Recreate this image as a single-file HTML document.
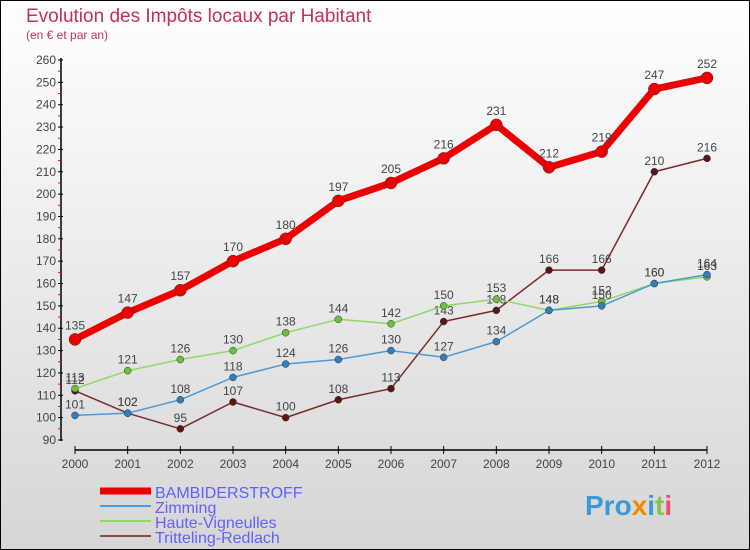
<!DOCTYPE html>
<html><head><meta charset="utf-8"><style>
body{margin:0}
#c{width:750px;height:550px;position:relative;overflow:hidden;font-family:"Liberation Sans",sans-serif}
</style></head><body>
<div id="c">
<svg id="s" width="750" height="550" xmlns="http://www.w3.org/2000/svg">
<defs><linearGradient id="bg" x1="0" y1="0" x2="0" y2="1"><stop offset="0" stop-color="#ffffff"/><stop offset="1" stop-color="#d6d6d6"/></linearGradient></defs>
<rect x="0.5" y="0.5" width="749" height="549" fill="url(#bg)" stroke="#000"/>
<text x="26" y="22" font-size="19" fill="#c0305a">Evolution des Impôts locaux par Habitant</text>
<text x="26" y="39" font-size="12" fill="#c0305a">(en € et par an)</text>
<g id="axes"></g><g id="series"></g><g id="legend"></g>
<text x="585" y="515" font-size="28" font-weight="bold" fill="#3a9ad9">Pro<tspan fill="#f08a00">x</tspan><tspan fill="#3a9ad9">i</tspan><tspan fill="#8bc34a">t</tspan><tspan fill="#e94e77">i</tspan></text>
</svg></div>
<script>
const years=[2000,2001,2002,2003,2004,2005,2006,2007,2008,2009,2010,2011,2012];
const yTicks=[90,100,110,120,130,140,150,160,170,180,190,200,210,220,230,240,250,260];
const bambiderstroff=[135,147,157,170,180,197,205,216,231,212,219,247,252];
const zimming=[101,102,108,118,124,126,130,127,134,148,150,160,164];
const hauteVigneulles=[113,121,126,130,138,144,142,150,153,148,152,160,163];
const tritteling=[112,102,95,107,100,108,113,143,148,166,166,210,216];
const seriesNames=["BAMBIDERSTROFF","Zimming","Haute-Vigneulles","Tritteling-Redlach"];
const NS="http://www.w3.org/2000/svg";
const x=i=>75+i*(707-75)/(years.length-1);
const y=v=>440-(v-90)*(380/170);
function mk(t,a,p){const e=document.createElementNS(NS,t);for(const k in a)e.setAttribute(k,a[k]);p.appendChild(e);return e;}
const ax=document.getElementById('axes');
let l=mk('line',{x1:61,y1:58,x2:61,y2:441,stroke:'#000','stroke-width':1.5},ax);


yTicks.forEach(v=>{
  mk('line',{x1:58,x2:63,y1:y(v),y2:y(v),stroke:'#000'},ax);
  if(v<260)mk('line',{x1:58,x2:61,y1:y(v+5),y2:y(v+5),stroke:'#f00'},ax);
  const t=mk('text',{x:56,y:y(v)+4,'font-size':12,fill:'#444','text-anchor':'end'},ax);t.textContent=v;
  
  
});
l=mk('line',{x1:75,y1:450,x2:707,y2:450,stroke:'#000','stroke-width':1.5},ax);


years.forEach((yr,i)=>{
  mk('line',{x1:x(i),x2:x(i),y1:446,y2:454,stroke:'#000'},ax);
  const t=mk('text',{x:x(i),y:468,'font-size':12,fill:'#444','text-anchor':'middle'},ax);t.textContent=yr;
  
  
});
const sg=document.getElementById('series');
const defs=[[tritteling,'#7a2a2a','#5a1515',1.5,3.5],[hauteVigneulles,'#8fd86a','#6cc040',1.5,3.5],[zimming,'#4d9ad4','#2f7fbf',1.5,3.5],[bambiderstroff,'#ee0000','#ee0000',7,6]];
const slugs=['tritteling-redlach','haute-vigneulles','zimming','bambiderstroff'];
defs.forEach((d,si)=>{
  const g=mk('g',{},sg);
  
  
  const pl=mk('polyline',{points:d[0].map((v,i)=>x(i)+','+y(v)).join(' '),fill:'none',stroke:d[1],'stroke-width':d[3],'stroke-linejoin':'round'},g);
  
  
  d[0].forEach((v,i)=>{
    const c=mk('circle',{cx:x(i),cy:y(v),r:d[4],fill:d[2],stroke:'#333','stroke-width':0.5},g);
    
    
    const t=mk('text',{x:x(i),y:y(v)-(si==3?10:7),'font-size':12,fill:'#444','text-anchor':'middle'},g);t.textContent=v;
    
    
  });
});
const lg=document.getElementById('legend');
const lc=['#ee0000','#4d9ad4','#8fd86a','#8a4a4a'],lw=[7,2,2,2];
seriesNames.forEach((n,i)=>{
  const g=mk('g',{},lg);
  
  
  const yy=491+i*15;
  mk('line',{x1:100,x2:151,y1:yy,y2:yy,stroke:lc[i],'stroke-width':lw[i]},g);
  const t=mk('text',{x:155,y:yy+7,'font-size':16,fill:'#6060ff'},g);t.textContent=n;
});
</script>
</body></html>
